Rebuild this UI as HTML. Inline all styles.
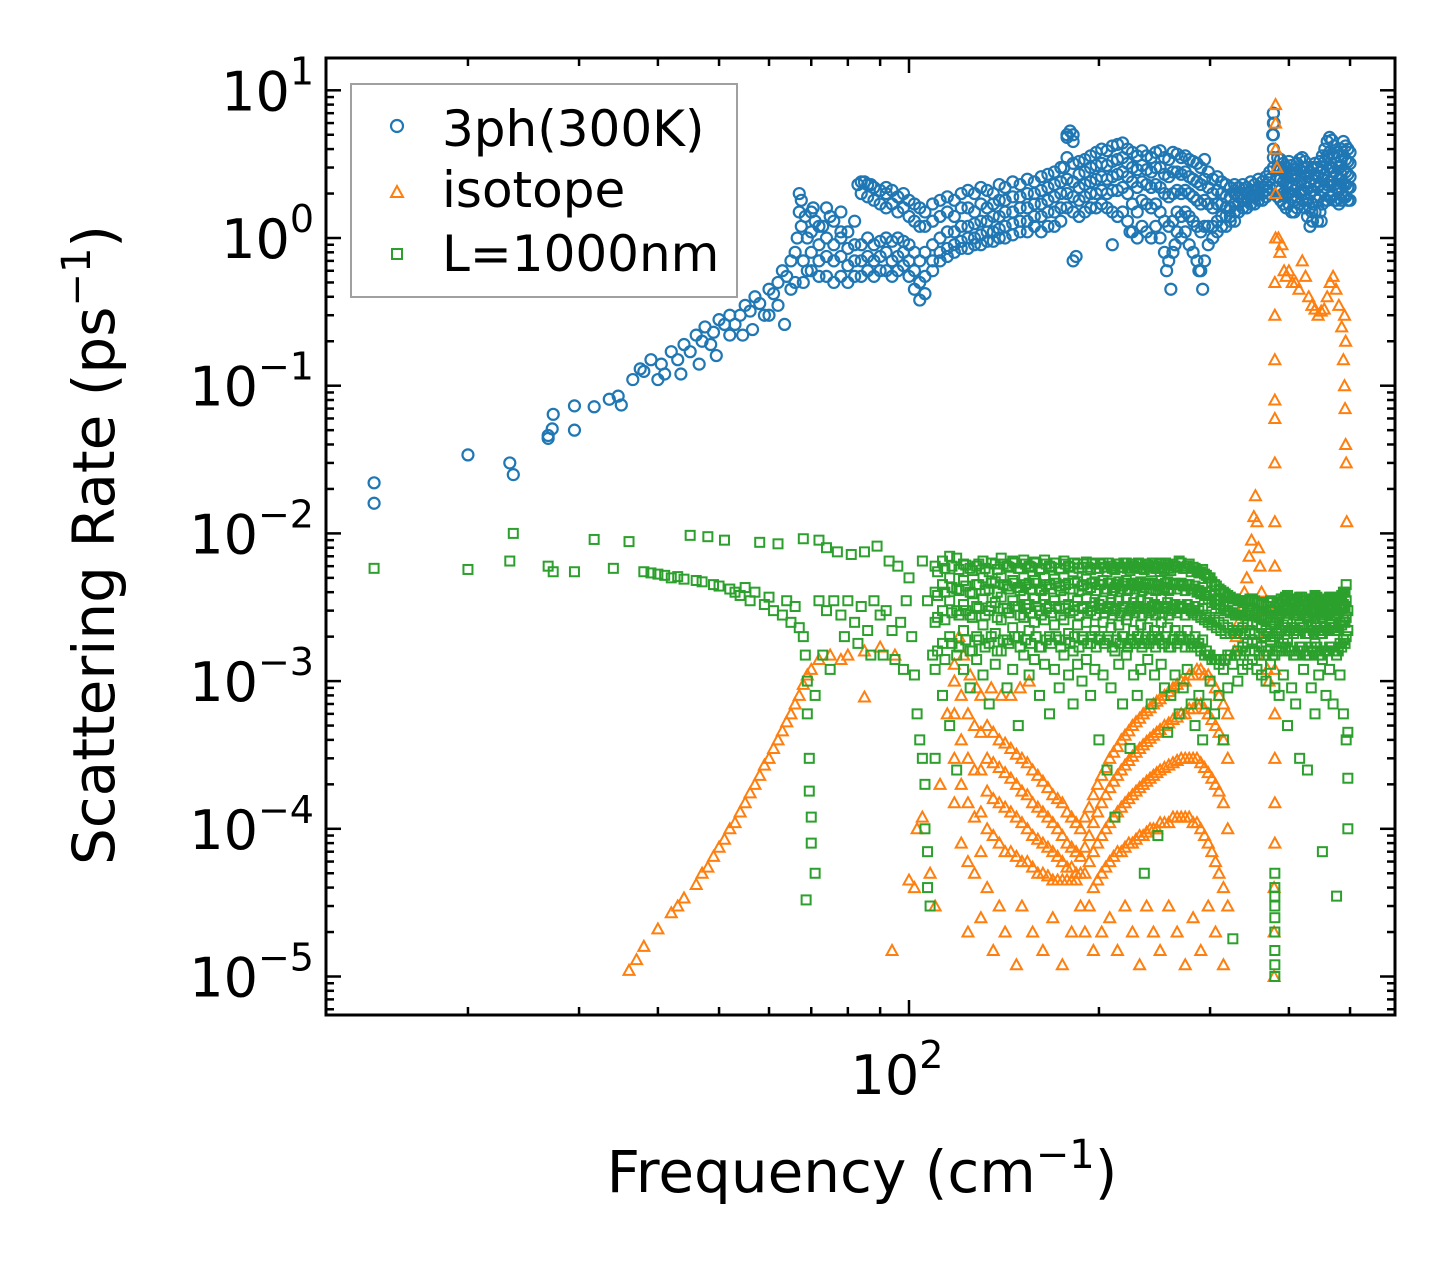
<!DOCTYPE html>
<html><head><meta charset="utf-8"><style>
html,body{margin:0;padding:0;background:#fff;}
svg{display:block;font-family:"DejaVu Sans","Liberation Sans",sans-serif;}
</style></head><body>
<svg id="chart" width="1455" height="1265" viewBox="0 0 1455 1265" xmlns="http://www.w3.org/2000/svg">
<rect width="1455" height="1265" fill="#fff"/>
<g id="marks"></g>
<g id="axes"></g>
<g id="legend">
<rect x="351" y="84" width="386" height="213" fill="#fff" fill-opacity="0.8" stroke="#a0a0a0" stroke-width="2"/>
<g><circle cx="397" cy="126" r="6" fill="none" stroke="#1f77b4" stroke-width="2.2"/><text x="442" y="146" font-size="50">3ph(300K)</text></g>
<g><path d="M391,197 L403,197 L397,186 Z" fill="none" stroke="#ff7f0e" stroke-width="2"/><text x="442" y="207" font-size="50">isotope</text></g>
<g><rect x="392" y="249" width="10" height="10" fill="none" stroke="#2ca02c" stroke-width="2"/><text x="442" y="271" font-size="50">L=1000nm</text></g>
</g>
<text x="862" y="1192" font-size="58" text-anchor="middle">Frequency (cm<tspan dy="-24" font-size="40">−1</tspan><tspan dy="24">)</tspan></text>
<text transform="translate(114,545) rotate(-90)" font-size="58" text-anchor="middle">Scattering Rate (ps<tspan dy="-24" font-size="40">−1</tspan><tspan dy="24">)</tspan></text>
</svg>
<script>
const blueData = [[14.2,0.022],[14.2,0.016],[20,0.034],[23.3,0.030],[23.6,0.025],[26.8,0.044],[26.8,0.046],[27.2,0.051],[27.3,0.064],[29.5,0.073],[29.5,0.05],[31.7,0.072],[33.5,0.081],[34.6,0.085],[35,0.074],[36.5,0.11],[37.5,0.13],[38,0.125],[39,0.15],[40,0.11],[40.5,0.14],[41,0.12],[42,0.17],[43,0.15],[43.5,0.12],[44,0.19],[45,0.17],[46,0.22],[46.5,0.14],[47,0.2],[47.5,0.25],[48.5,0.19],[49,0.23],[49.5,0.16],[50,0.28],[51,0.26],[52,0.3],[52,0.22],[53,0.26],[54,0.3],[54.5,0.22],[55,0.35],[56,0.32],[56.5,0.24],[57,0.4],[58,0.36],[59,0.3],[60,0.45],[60,0.3],[61,0.42],[62,0.5],[62,0.35],[63,0.6],[63.5,0.26],[64,0.55],[65,0.7],[65,0.45],[66,0.8],[66,0.5],[66.5,1.0],[67,1.5],[67,2.0],[67.5,1.8],[67.5,1.2],[68,0.7],[68,0.5],[68.5,1.4],[69,1.0],[69,0.6],[70.5,1.6],[71,1.3],[73,1.2],[75,1.4],[78,1.1],[83,2.3],[85,2.4],[87,2.3],[92,2.2],[176,3.0],[178,5.0],[180,5.3],[182,4.5],[182,0.7],[184,0.75],[210,0.9],[224,1.1],[256,0.6],[260,0.45],[264,0.9],[288,0.6],[292,0.45],[377,5],[378,7],[379,6],[435,1.5],[450,1.3]];
const blueBandFreq = [70,72,74,76,78,80,82,84,86,88,90,92,94,96,98,100,102,104,106,109,112,115,118,121,124,127,130,133,136,139,142,146,150,154,158,162,166,170,174,178,182,186,190,194,198,202,206,210,214,218,222,226,230,234,238,242,246,250,254,258,262,266,270,274,278,282,286,290,294,298,303,308,313,318,323,328,333,338,343,348,353,358,363,368,373,378,384,388,392,396,400,404,408,412,416,420,424,428,432,436,440,444,448,452,456,460,464,468,472,476,480,484,488,492,496,500];
const blueBandVals = [[1.5,1.1,0.8,0.6],[1.2,0.9,0.7,0.55],[1.6,1.0,0.75,0.55],[1.3,0.9,0.7,0.5],[1.5,1.0,0.75,0.55],[1.1,0.85,0.65,0.5],[1.3,0.9,0.7,0.55],[2.4,2.0,0.9,0.7,0.55],[2.3,1.9,1.0,0.75,0.6],[2.2,1.8,0.9,0.7,0.55],[2.1,1.7,0.95,0.75,0.6],[2.0,1.6,1.0,0.8,0.6],[2.1,1.7,0.95,0.7,0.55],[1.9,1.5,1.0,0.75,0.6],[2.0,1.6,0.95,0.8,0.65],[1.8,1.4,0.9,0.7,0.55],[1.7,1.3,0.8,0.6,0.45],[1.6,1.2,0.7,0.5,0.38],[1.5,1.2,0.8,0.55,0.42],[1.7,1.3,0.9,0.7,0.6],[1.8,1.4,1.0,0.8,0.7],[1.9,1.5,1.1,0.85,0.75],[1.8,1.4,1.1,0.9,0.8],[2.0,1.6,1.2,0.95,0.85],[2.1,1.6,1.2,1.0,0.85],[2.0,1.5,1.25,1.0,0.9],[2.2,1.7,1.3,1.05,0.9],[2.1,1.6,1.3,1.1,0.95],[2.0,1.7,1.4,1.1,0.95],[2.3,1.8,1.4,1.15,1.0],[2.2,1.8,1.5,1.2,1.0],[2.4,1.9,1.5,1.25,1.05],[2.3,1.9,1.6,1.3,1.1],[2.5,2.0,1.6,1.3,1.1],[2.4,2.0,1.7,1.4,1.2],[2.6,2.1,1.7,1.4,1.1],[2.7,2.2,1.8,1.5,1.2],[2.8,2.3,1.9,1.5,1.2],[3.0,2.4,2.0,1.6,1.3],[4.8,3.5,2.5,2.0,1.6],[5.0,3.2,2.4,1.9,1.5],[3.3,2.7,2.2,1.8,1.4],[3.4,2.8,2.3,1.9,1.5],[3.6,3.0,2.4,2.0,1.6],[3.8,3.1,2.5,2.0,1.6],[4.0,3.2,2.6,2.1,1.7],[3.9,3.1,2.5,2.0,1.6],[4.2,3.3,2.6,2.1,1.5],[4.3,3.4,2.7,2.1,1.4],[4.4,3.5,2.8,2.2,1.5],[4.0,3.2,2.6,2.0,1.3],[3.8,3.0,2.4,1.7,1.1],[3.6,2.9,2.2,1.5,1.0],[3.9,3.1,2.4,1.8,1.2],[3.6,2.9,2.3,1.7,1.1],[3.5,2.8,2.2,1.6,1.0],[3.8,3.0,2.3,1.7,1.2],[3.9,3.0,2.2,1.5,1.0],[3.5,2.7,2.0,1.3,0.8],[3.4,2.6,1.9,1.2,0.7],[3.8,2.8,2.0,1.3,0.8],[3.7,2.8,2.1,1.5,1.1],[3.5,2.7,2.0,1.4,1.0],[3.6,2.8,2.1,1.5,1.1],[3.4,2.6,2.0,1.4,0.9],[3.3,2.5,1.9,1.3,0.8],[3.2,2.4,1.8,1.2,0.7],[3.0,2.3,1.7,1.1,0.6],[3.4,2.5,1.8,1.2,0.7],[2.8,2.2,1.7,1.2,0.9],[2.5,2.0,1.6,1.2,1.0],[2.6,2.1,1.7,1.3,1.1],[2.4,2.0,1.7,1.4,1.2],[2.3,1.9,1.6,1.4,1.2],[2.2,1.9,1.6,1.4,1.3],[2.3,2.0,1.7,1.5,1.3],[2.2,1.9,1.7,1.5],[2.3,2.0,1.8,1.6],[2.2,2.0,1.8,1.6],[2.4,2.1,1.9,1.7],[2.3,2.1,1.9,1.7],[2.5,2.2,2.0,1.8],[2.4,2.2,2.0,1.8],[2.6,2.3,2.1,1.9],[2.8,2.5,2.2,2.0],[7,6,5,4,3.5,3],[3.5,3.0,2.6,2.2,1.9],[3.4,2.9,2.5,2.1,1.8],[3.2,2.8,2.4,2.0,1.7],[3.0,2.6,2.3,1.9,1.6],[3.3,2.8,2.4,2.0,1.7],[3.1,2.7,2.3,1.9,1.5],[2.9,2.5,2.1,1.8,1.5],[3.2,2.7,2.3,1.9,1.6],[3.4,2.9,2.4,2.0,1.7],[3.5,3.0,2.5,2.1,1.8],[3.3,2.8,2.4,2.0,1.6],[3.0,2.6,2.2,1.8,1.4],[2.8,2.4,2.0,1.6,1.2],[3.0,2.5,2.1,1.7,1.3],[3.2,2.7,2.3,1.9,1.5],[3.0,2.6,2.2,1.8,1.3],[3.3,2.8,2.3,1.9,1.5],[3.6,3.0,2.5,2.1,1.7],[4.0,3.3,2.7,2.2,1.8],[4.5,3.6,2.9,2.3,1.8],[4.8,3.8,3.0,2.4,1.9],[4.6,3.7,3.0,2.4,1.9],[4.2,3.5,2.8,2.3,1.8],[3.8,3.2,2.7,2.2,1.8],[3.6,3.0,2.5,2.1,1.7],[4.0,3.3,2.7,2.2,1.8],[4.5,3.6,2.9,2.3,1.9],[4.2,3.4,2.8,2.3,1.9],[4.0,3.3,2.7,2.2,1.8],[3.8,3.2,2.6,2.2,1.8]];
const orangeData = [[36,1.1e-5],[37,1.3e-5],[38,1.6e-5],[40,2.1e-5],[42,2.7e-5],[43,3e-5],[44,3.4e-5],[46,4.2e-5],[47,5e-5],[48,5.5e-5],[49,6.5e-5],[50,7.5e-5],[51,8.5e-5],[52,1e-4],[53,1.1e-4],[54,1.3e-4],[55,1.5e-4],[56,1.75e-4],[57,2e-4],[58,2.3e-4],[59,2.7e-4],[60,3e-4],[61,3.5e-4],[62,4e-4],[63,4.6e-4],[64,5.3e-4],[65,6e-4],[66,7e-4],[67,8e-4],[68,9.5e-4],[69,1.1e-3],[70,1.2e-3],[72,1.4e-3],[75,1.5e-3],[78,1.4e-3],[80,1.5e-3],[85,1.6e-3],[90,1.7e-3],[95,1.5e-3],[85,7.8e-4],[94,1.5e-5],[100,4.5e-5],[102,4e-5],[103,1e-4],[105,1.2e-4],[108,5e-5],[110,3e-5],[112,2e-4],[115,6e-4],[118,1.3e-3],[120,2e-3],[122,1.5e-3],[125,1.1e-3],[128,9e-4],[130,8e-4],[135,9e-4],[140,8e-4],[145,8e-4],[150,9e-4],[155,1e-3],[328,1.6e-3],[330,2e-3],[333,2.5e-3],[336,3e-3],[340,4e-3],[343,5e-3],[346,7e-3],[349,9e-3],[352,1.3e-2],[354,1.8e-2],[356,1.2e-2],[358,8e-3],[360,6e-3],[362,4e-3],[364,3e-3],[366,2e-3],[368,1.5e-3],[370,1.2e-3],[372,1e-3],[379,1e-5],[379,2e-5],[379,4e-5],[380,8e-5],[380,1.5e-4],[380,3e-4],[380,6e-4],[380,1.2e-3],[380,3e-3],[380,6e-3],[380,0.012],[380,0.03],[380,0.06],[380,0.08],[380,0.15],[380,0.3],[380,0.5],[381,1],[381,2],[381,4],[381,6],[381,8],[383,3],[385,1],[387,0.8],[390,0.9],[393,0.6],[396,0.55],[400,0.6],[405,0.5],[410,0.5],[415,0.45],[420,0.7],[425,0.55],[430,0.4],[435,0.35],[440,0.33],[445,0.3],[450,0.32],[455,0.33],[460,0.4],[465,0.5],[470,0.55],[475,0.45],[480,0.35],[485,0.25],[488,0.15],[490,0.1],[491,0.07],[492,0.04],[493,0.03],[494,0.012],[492,0.2],[490,0.3]];
const orangeBlobFreq = [118,121,124,127,130,133,136,139,142,145,148,151,154,157,160,163,166,169,172,175,178,181,184,187,190,193,196,199,202,205,208,211,214,217,220,223,226,229,232,235,238,241,244,247,250,254,258,262,266,270,274,278,282,286,290,294,298,302,306,310,315,320];
const orangeBlobVals = [[1e-3,6e-4,3e-4,1.5e-4],[8e-4,4e-4,2e-4,8e-5],[6e-4,3e-4,1.5e-4,6e-5,2e-5],[5e-4,2.5e-4,1.2e-4,5e-5],[4.5e-4,2.5e-4,1.3e-4,7e-5,2.5e-5],[5e-4,3e-4,1.8e-4,1e-4,4e-5],[4.5e-4,2.8e-4,1.6e-4,9e-5,1.5e-5],[4e-4,2.6e-4,1.5e-4,8e-5,3e-5],[3.8e-4,2.4e-4,1.4e-4,7e-5,2e-5],[3.5e-4,2.2e-4,1.3e-4,7e-5],[3.2e-4,2e-4,1.2e-4,6.5e-5,1.2e-5],[3e-4,1.8e-4,1.1e-4,6e-5,3e-5],[2.8e-4,1.7e-4,1e-4,6e-5],[2.5e-4,1.5e-4,9e-5,5.5e-5,2e-5],[2.3e-4,1.4e-4,8.5e-5,5e-5],[2.1e-4,1.3e-4,8e-5,5e-5,1.5e-5],[1.9e-4,1.2e-4,7.5e-5,4.8e-5],[1.7e-4,1.1e-4,7e-5,4.5e-5,2.5e-5],[1.6e-4,1e-4,6.5e-5,4.5e-5],[1.5e-4,9e-5,6e-5,4.5e-5,1.2e-5],[1.3e-4,8e-5,5.5e-5,4.5e-5],[1.2e-4,7.5e-5,5.5e-5,4.5e-5,2e-5],[1.1e-4,7e-5,5e-5,4.5e-5],[1e-4,6.5e-5,5e-5,3e-5],[1.2e-4,7.5e-5,5e-5,2e-5],[1.4e-4,9e-5,6e-5,3e-5],[1.7e-4,1.1e-4,7e-5,4e-5,1.5e-5],[2e-4,1.3e-4,8e-5,4.5e-5],[2.3e-4,1.5e-4,9e-5,5e-5,2e-5],[2.6e-4,1.7e-4,1e-4,5.5e-5],[3e-4,1.9e-4,1.1e-4,6e-5,2.5e-5],[3.3e-4,2.1e-4,1.2e-4,6.5e-5],[3.6e-4,2.3e-4,1.3e-4,7e-5,1.5e-5],[4e-4,2.5e-4,1.4e-4,7e-5],[4.3e-4,2.7e-4,1.5e-4,7.5e-5,3e-5],[4.6e-4,2.9e-4,1.6e-4,8e-5],[5e-4,3.1e-4,1.7e-4,8e-5,2e-5],[5.3e-4,3.3e-4,1.8e-4,8.5e-5],[5.6e-4,3.5e-4,1.9e-4,9e-5,1.2e-5],[6e-4,3.7e-4,2e-4,9e-5],[6.3e-4,3.9e-4,2.1e-4,9.5e-5,3e-5],[6.6e-4,4.1e-4,2.2e-4,1e-4],[7e-4,4.3e-4,2.3e-4,1e-4,2e-5],[7.3e-4,4.5e-4,2.4e-4,1e-4],[7.6e-4,4.7e-4,2.5e-4,1.1e-4,1.5e-5],[8e-4,5e-4,2.6e-4,1.1e-4],[8.5e-4,5.2e-4,2.7e-4,1.1e-4,3e-5],[9e-4,5.5e-4,2.8e-4,1.2e-4],[9.5e-4,5.7e-4,2.9e-4,1.2e-4,2e-5],[1e-3,6e-4,3e-4,1.2e-4],[1e-3,6e-4,3e-4,1.2e-4,1.2e-5],[1.1e-3,6.5e-4,3e-4,1.2e-4],[1.1e-3,6.5e-4,3e-4,1.1e-4,2.5e-5],[1.2e-3,7e-4,3e-4,1.1e-4],[1.2e-3,7e-4,2.8e-4,1e-4,1.5e-5],[1.1e-3,6.5e-4,2.6e-4,9e-5],[1.1e-3,6e-4,2.4e-4,8e-5,3e-5],[1e-3,5.5e-4,2.2e-4,7e-5],[9e-4,5e-4,2e-4,6e-5,2e-5],[8e-4,4.5e-4,1.8e-4,5e-5],[7e-4,4e-4,1.5e-4,4e-5,1.2e-5],[6e-4,3e-4,1e-4,3e-5]];
const greenSparse = [[14.2,0.0058],[20,0.0057],[23.3,0.0065],[23.6,0.01],[26.8,0.006],[27.3,0.0055],[29.5,0.0055],[31.7,0.0091],[34,0.0058],[36,0.0088],[38,0.0055],[39,0.0054],[40,0.0053],[41,0.0052],[42,0.005],[43,0.0051],[44,0.0049],[45,0.0097],[46,0.0048],[47,0.0047],[48,0.0095],[49,0.0045],[50,0.0044],[51,0.009],[52,0.0042],[53,0.004],[54,0.0038],[55,0.0043],[56,0.0035],[57,0.004],[58,0.0087],[59,0.0033],[60,0.0037],[61,0.003],[62,0.0085],[63,0.0028],[64,0.0035],[65,0.0025],[66,0.0032],[67,0.0023],[68,0.0092],[68,0.002],[68.5,0.0015],[69,0.001],[69,0.0006],[69.5,0.0003],[69.5,0.00018],[70,0.00012],[70,0.00008],[68.7,0.000033],[71,0.00005],[71,0.0008],[72,0.009],[72,0.0035],[73,0.0015],[74,0.008],[74,0.003],[75,0.0012],[76,0.0035],[77,0.0075],[78,0.0028],[79,0.002],[80,0.0035],[81,0.0072],[82,0.0025],[83,0.0018],[84,0.0032],[85,0.0075],[86,0.0022],[87,0.0015],[88,0.0035],[89,0.0082],[90,0.0028],[91,0.0015],[92,0.003],[93,0.0065],[94,0.0022],[95,0.0014],[96,0.006],[97,0.0025],[98,0.0012],[99,0.0035],[100,0.005],[101,0.002],[102,0.0011],[103,0.0006],[104,0.0004],[105,0.0003],[106,0.0002],[106,0.0001],[107,0.00007],[107,0.00004],[108,0.00003],[105,0.0065],[107,0.0035],[109,0.0015],[380,0.00001],[380,0.000012],[380,0.000015],[380,0.00002],[380,0.000025],[380,0.00003],[380,0.000035],[380,0.00004],[380,0.00005]];
const greenBandFreq = [110,113,116,119,122,125,128,131,134,137,140,143,146,149,152,155,158,161,164,167,170,173,176,179,182,185,188,191,194,197,200,203,206,209,212,215,218,221,224,227,230,233,236,239,242,245,248,251,254,257,260,264,268,272,276,280,284,288,292,296,300,305,310,315,320,326,332,338,344,350,356,362,368,374,380,386,392,398,404,410,416,422,428,434,440,446,452,458,464,470,476,482,488,493,496];
const greenBandVals = [[.006,.004,.0025,.0012,.0003],[.0065,.0045,.003,.0018,.0008],[.007,.005,.0035,.002,.0005],[.0068,.0042,.003,.0015,.00025],[.0062,.0048,.0033,.0022,.0012],[.0058,.004,.0028,.0016,.0009],[.006,.0045,.0032,.002,.0014],[.0065,.005,.0036,.0024,.0011],[.0055,.0042,.003,.0018,.0007],[.0062,.0047,.0034,.0021,.0013],[.0068,.005,.0037,.0026,.0016],[.006,.0044,.0031,.0019,.0009],[.0065,.0048,.0035,.0023,.0012],[.0058,.0043,.0032,.002,.0005],[.0066,.005,.0038,.0027,.0015],[.006,.0046,.0033,.0022,.0011],[.0064,.0048,.0036,.0025,.0014],[.0057,.0042,.003,.0017,.0008],[.0066,.005,.0038,.0026,.0013],[.006,.0045,.0032,.002,.0006],[.0063,.0049,.0035,.0024,.0012],[.0058,.0044,.0031,.0019,.0009],[.0065,.005,.0037,.0026,.0015],[.006,.0046,.0033,.0021,.0011],[.0055,.0042,.003,.0016,.0007],[.0062,.0047,.0035,.0024,.0013],[.0059,.0044,.0032,.002,.001],[.0064,.0049,.0036,.0025,.0014],[.0057,.0043,.003,.0018,.0008],[.0062,.0047,.0034,.0022,.0012],[.0058,.0045,.0033,.002,.0004],[.0063,.0048,.0035,.0025,.0011],[.0055,.0042,.0031,.0019,.00025],[.006,.0046,.0034,.0023,.0009],[.0057,.0043,.003,.0016,.00012],[.0062,.0047,.0035,.0024,.0013],[.0059,.0044,.0032,.002,.0007],[.0063,.0048,.0036,.0026,.0015],[.0056,.0042,.003,.0018,.00035],[.006,.0046,.0034,.0022,.0011],[.0058,.0044,.0032,.002,.0008],[.0062,.0047,.0035,.0024,.0012],[.0057,.0043,.0031,.0018,.00005],[.0061,.0046,.0034,.0023,.0014],[.0055,.0042,.003,.0019,.0007],[.006,.0045,.0033,.0022,.0011],[.0058,.0044,.0032,.002,.00009],[.0063,.0048,.0036,.0025,.0013],[.0057,.0043,.0031,.0018,.0009],[.0061,.0047,.0034,.0023,.00045],[.0056,.0042,.003,.0017,.0008],[.006,.0046,.0033,.0022,.0011],[.0065,.0045,.0032,.002,.0006],[.0058,.0044,.0031,.0019,.0009],[.006,.0045,.0033,.0022,.0012],[.0055,.0042,.003,.0017,.0007],[.0058,.0044,.0032,.002,.0005],[.0054,.0041,.003,.0018,.0008],[.0057,.0043,.0031,.0019,.0004],[.0052,.004,.0028,.0016,.0007],[.005,.0038,.0027,.0015,.001],[.0045,.0035,.0026,.0014,.0006],[.0042,.0033,.0025,.0013,.0008],[.004,.0032,.0024,.0012,.0004],[.0038,.003,.0023,.0015,.0009],[.0036,.0029,.0022,.0013,.000018],[.0035,.0028,.0022,.0016,.001],[.0034,.0028,.0023,.0017,.0012],[.0035,.0029,.0024,.0018,.0013],[.0036,.003,.0025,.0019,.0014],[.0034,.0029,.0024,.0018,.0012],[.0033,.0028,.0023,.0017,.0011],[.0032,.0027,.0022,.0016,.001],[.0035,.003,.0025,.0019,.0013],[.003,.0025,.002,.0015,.0009],[.0033,.0028,.0022,.0016,.0008],[.0035,.003,.0024,.0018,.0011],[.0038,.0031,.0025,.0019,.0005],[.0036,.003,.0023,.0016,.0009],[.0034,.0028,.0022,.0015,.0007],[.0037,.0031,.0024,.0017,.0003],[.0035,.0029,.0023,.0016,.0012],[.0033,.0027,.0021,.0015,.00025],[.0036,.003,.0024,.0017,.0009],[.0038,.0031,.0025,.0018,.0006],[.0035,.0029,.0022,.0015,.0011],[.0032,.0027,.0021,.0014,.00007],[.0035,.0029,.0023,.0016,.0008],[.0037,.003,.0024,.0017,.0012],[.0036,.003,.0023,.0016,.0007],[.0034,.0028,.0022,.0015,.000035],[.0037,.0031,.0025,.0018,.0011],[.004,.0033,.0026,.0019,.0006],[.0045,.0035,.0027,.002,.0004],[.003,.0022,.00045,.00022,.0001]];
const greenBand2Freq = [111,114,117,120,123,126,129,132,135,138,141,144,147,150,153,156,159,162,165,168,171,174,177,180,183,186,189,192,195,198,201,204,207,210,213,216,219,222,225,228,231,234,237,240,243,246,249,252,255,258,262,266,270,274,278,282,286,290,294,298,302,307,312,317,323,329,335,341,347,353,359,365,371,377,383,389,395,401,407,413,419,425,431,437,443,449,455,461,467,473,479,485,491];
const greenBand2Vals = [[.0055,.0038,.0027,.0016],[.0058,.004,.0026,.0014],[.006,.0043,.0029,.0018],[.0057,.0041,.0028,.0017],[.0061,.0044,.003,.0019],[.0056,.0039,.0027,.0016],[.0062,.0045,.0031,.0019],[.0058,.0041,.0028,.0017],[.0063,.0046,.0032,.002],[.0057,.004,.0027,.0016],[.0062,.0045,.0031,.0019],[.0059,.0042,.0029,.0018],[.0063,.0046,.0032,.002],[.0058,.0041,.0028,.0017],[.0062,.0045,.0031,.0019],[.0059,.0042,.0029,.0018],[.0063,.0046,.0032,.002],[.0058,.0041,.0028,.0017],[.0062,.0045,.0031,.0019],[.0059,.0042,.0029,.0018],[.0063,.0046,.0032,.002],[.0058,.0041,.0028,.0017],[.0062,.0045,.0031,.0019],[.0059,.0042,.0029,.0018],[.0063,.0046,.0032,.002],[.0058,.0041,.0028,.0017],[.0062,.0045,.0031,.0019],[.0059,.0042,.0029,.0018],[.0063,.0046,.0032,.002],[.0058,.0041,.0028,.0017],[.0062,.0045,.0031,.0019],[.0059,.0042,.0029,.0018],[.0063,.0046,.0032,.002],[.0058,.0041,.0028,.0017],[.0062,.0045,.0031,.0019],[.0059,.0042,.0029,.0018],[.0063,.0046,.0032,.002],[.0058,.0041,.0028,.0017],[.0062,.0045,.0031,.0019],[.0059,.0042,.0029,.0018],[.0063,.0046,.0032,.002],[.0058,.0041,.0028,.0017],[.0062,.0045,.0031,.0019],[.0059,.0042,.0029,.0018],[.0063,.0046,.0032,.002],[.0058,.0041,.0028,.0017],[.0062,.0045,.0031,.0019],[.0059,.0042,.0029,.0018],[.0063,.0046,.0032,.002],[.0058,.0041,.0028,.0017],[.0062,.0045,.0031,.0019],[.0059,.0042,.0029,.0018],[.0063,.0046,.0032,.002],[.0058,.0041,.0028,.0017],[.0062,.0045,.0031,.0019],[.0059,.0042,.0029,.0018],[.0056,.004,.0028,.0017],[.0055,.0039,.0027,.0016],[.0053,.0038,.0026,.0015],[.005,.0036,.0025,.0015],[.0047,.0034,.0024,.0014],[.0044,.0033,.0023,.0014],[.0041,.0031,.0022,.0014],[.0039,.003,.0021,.0014],[.0037,.0029,.0021,.0015],[.0036,.0028,.0021,.0015],[.0035,.0028,.0021,.0015],[.0035,.0028,.0021,.0016],[.0036,.0029,.0022,.0016],[.0035,.0028,.0021,.0016],[.0034,.0027,.0021,.0015],[.0033,.0026,.002,.0015],[.0034,.0027,.0021,.0016],[.0032,.0026,.002,.0015],[.0034,.0027,.0021,.0016],[.0036,.0029,.0022,.0017],[.0037,.003,.0023,.0017],[.0036,.0029,.0022,.0016],[.0035,.0028,.0021,.0015],[.0036,.0029,.0022,.0016],[.0037,.003,.0023,.0017],[.0035,.0028,.0021,.0015],[.0034,.0027,.0021,.0015],[.0036,.0029,.0022,.0016],[.0037,.003,.0023,.0017],[.0034,.0028,.0021,.0015],[.0035,.0028,.0022,.0016],[.0036,.0029,.0022,.0016],[.0037,.003,.0023,.0017],[.0035,.0028,.0022,.0016],[.0036,.0029,.0022,.0016],[.0038,.0031,.0024,.0017],[.004,.0032,.0025,.0018]];
const yTickExponents = [1,0,-1,-2,-3,-4,-5];
const xMinorTicks = [20,30,40,50,60,70,80,90,200,300,400,500];
const xMajorTicks = [100];

const PL=326, PR=1395, PT=58, PB=1015;
function xs(f){ return 909 + 631*Math.log10(f/100); }
function ys(v){ return 238 - 147.7*Math.log10(v); }
const NS='http://www.w3.org/2000/svg';
const marks=document.getElementById('marks');
const axes=document.getElementById('axes');
function mk(tag, attrs, parent){ const e=document.createElementNS(NS,tag); for(const k in attrs) e.setAttribute(k,attrs[k]); parent.appendChild(e); return e; }

const gB=mk('g',{fill:'none',stroke:'#1f77b4','stroke-width':2.2},marks);


const gO=mk('g',{fill:'none',stroke:'#ff7f0e','stroke-width':2},marks);


const gG=mk('g',{fill:'none',stroke:'#2ca02c','stroke-width':2},marks);



function circ(f,v){
  const c=mk('circle',{cx:xs(f),cy:ys(v),r:5.5},gB);
  
  
}
blueData.forEach(d=>circ(d[0],d[1]));
blueBandFreq.forEach((f,i)=>blueBandVals[i].forEach(v=>circ(f,v)));
function tri(f,v){
  const x=xs(f), y=ys(v);
  const p=mk('path',{d:`M${x-5.5},${y+4.5} L${x+5.5},${y+4.5} L${x},${y-5.5} Z`},gO);
  
  
}
orangeData.forEach(d=>tri(d[0],d[1]));
orangeBlobFreq.forEach((f,i)=>orangeBlobVals[i].forEach(v=>tri(f,v)));
function sq(f,v){
  const r=mk('rect',{x:xs(f)-4.5,y:ys(v)-4.5,width:9,height:9},gG);
  
  
}
greenSparse.forEach(d=>sq(d[0],d[1]));
greenBandFreq.forEach((f,i)=>greenBandVals[i].forEach(v=>sq(f,v)));
greenBand2Freq.forEach((f,i)=>greenBand2Vals[i].forEach(v=>sq(f,v)));

const fr=mk('rect',{x:PL,y:PT,width:PR-PL,height:PB-PT,fill:'none',stroke:'#000','stroke-width':3},axes);


const tg=mk('g',{stroke:'#000','stroke-width':2.5},axes);


yTickExponents.forEach(e=>{
  const y=ys(Math.pow(10,e));
  mk('line',{x1:PL,x2:PL+15,y1:y,y2:y},tg);
  mk('line',{x1:PR,x2:PR-15,y1:y,y2:y},tg);
  const t=mk('text',{x:314,y:y+20,'font-size':54,'text-anchor':'end',stroke:'none',fill:'#000'},axes);
  
  
  t.innerHTML='10<tspan dy="-26" font-size="38">'+(e<0?'−'+(-e):e)+'</tspan>';
  for(let m=2;m<=9;m++){
    const yy=ys(m*Math.pow(10,e));
    if(yy<PT||yy>PB) continue;
    mk('line',{x1:PL,x2:PL+8,y1:yy,y2:yy},tg);
    mk('line',{x1:PR,x2:PR-8,y1:yy,y2:yy},tg);
  }
  if(e===-5){ for(let m=6;m<=9;m++){ const yy=ys(m*1e-6); if(yy<=PB){ mk('line',{x1:PL,x2:PL+8,y1:yy,y2:yy},tg); mk('line',{x1:PR,x2:PR-8,y1:yy,y2:yy},tg);} } }
});
xMinorTicks.forEach(f=>{
  const x=xs(f);
  mk('line',{x1:x,x2:x,y1:PB,y2:PB-8},tg);
  mk('line',{x1:x,x2:x,y1:PT,y2:PT+8},tg);
});
xMajorTicks.forEach(f=>{
  const x=xs(f);
  mk('line',{x1:x,x2:x,y1:PB,y2:PB-15},tg);
  mk('line',{x1:x,x2:x,y1:PT,y2:PT+15},tg);
  const t=mk('text',{x:x-12,y:1094,'font-size':54,'text-anchor':'middle',fill:'#000'},axes);
  
  
  t.innerHTML='10<tspan dy="-26" font-size="38">2</tspan>';
});
</script>
</body></html>
